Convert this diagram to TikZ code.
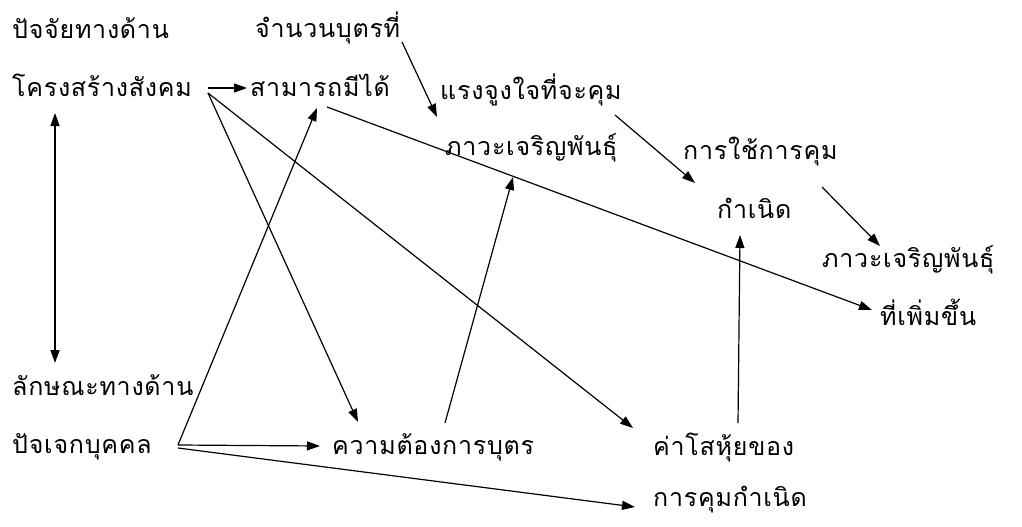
\documentclass[tikz,border=0pt]{standalone}
\usepackage{fontspec}
\newfontfamily\thaifont[Script=Thai,LetterSpace=3]{Loma}
\usetikzlibrary{arrows.meta}
\tikzset{
  lbl/.style={anchor=west, inner sep=0pt, font=\thaifont\fontsize{25}{28}\selectfont},
  arr/.style={line width=1.2pt, -{Triangle[length=13pt,width=9pt]}},
  dbl/.style={line width=1.7pt, {Triangle[length=13pt,width=9pt]}-{Triangle[length=13pt,width=9pt]}}
}
\begin{document}
\begin{tikzpicture}[x=1pt,y=-1pt]
\useasboundingbox (0,0) rectangle (1022,527);
\fill[white] (0,0) rectangle (1022,527);
% nodes
\node[lbl] (f1)   at (12,28)  {ปัจจัยทางด้าน};
\node[lbl] (soc)  at (12,85)  {โครงสร้างสังคม};
\node[lbl] (n2)   at (255,28) {จำนวนบุตรที่};
\node[lbl] (cap)  at (250,85) {สามารถมีได้};
\node[lbl] (mot)  at (440,90) {แรงจูงใจที่จะคุม};
\node[lbl] (fer)  at (445,148) {ภาวะเจริญพันธุ์};
\node[lbl] (use)  at (683,152) {การใช้การคุม};
\node[lbl] (birth) at (717,208) {กำเนิด};
\node[lbl] (fer2) at (822,260) {ภาวะเจริญพันธุ์};
\node[lbl] (inc)  at (880,312) {ที่เพิ่มขึ้น};
\node[lbl] (ind1) at (12,385) {ลักษณะทางด้าน};
\node[lbl] (ind)  at (12,447) {ปัจเจกบุคคล};
\node[lbl] (want) at (332,447) {ความต้องการบุตร};
\node[lbl] (cost) at (653,447) {ค่าโสหุ้ยของ};
\node[lbl] (bc)   at (653,500) {การคุมกำเนิด};
% connectors
\draw[arr] ([shift={(196,3)}]soc.west) -- ([shift={(-3,3)}]cap.west);
\draw[dbl] ([shift={(43,28)}]soc.west) -- ([shift={(43,-22)}]ind1.west);
\draw[arr] ([shift={(196,8)}]soc.west) -- ([shift={(26,-25)}]want.west);
\draw[arr] ([shift={(196,8)}]soc.west) -- ([shift={(-20,-19)}]cost.west);
\draw[arr] ([shift={(166,-2)}]ind.west) -- ([shift={(67,23)}]cap.west);
\draw[arr] ([shift={(166,-2)}]ind.west) -- ([shift={(-12,-1)}]want.west);
\draw[arr] ([shift={(166,1)}]ind.west) -- ([shift={(-18,7)}]bc.west);
\draw[arr] ([shift={(147,14)}]n2.west) -- ([shift={(-8,-31)}]fer.west);
\draw[arr] ([shift={(113,-24)}]want.west) -- ([shift={(68,29)}]fer.west);
\draw[arr] ([shift={(77,22)}]cap.west) -- ([shift={(-8,-2)}]inc.west);
\draw[arr] ([shift={(175,25)}]mot.west) -- ([shift={(-22,-25)}]birth.west);
\draw[arr] ([shift={(139,35)}]use.west) -- ([shift={(58,-14)}]fer2.west);
\draw[arr] ([shift={(85,-24)}]cost.west) -- ([shift={(23,27)}]birth.west);
\end{tikzpicture}
\end{document}
